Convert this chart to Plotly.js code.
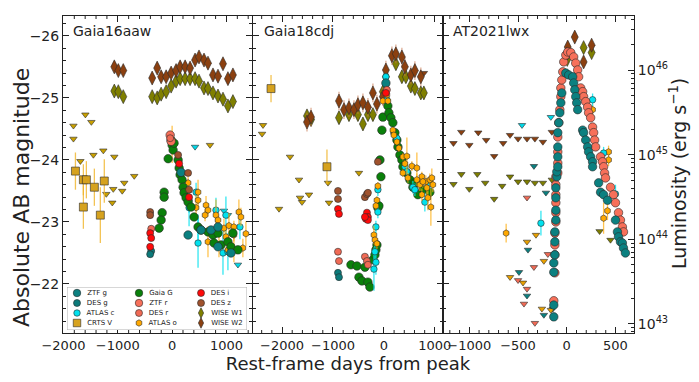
<!DOCTYPE html>
<html><head><meta charset="utf-8">
<script src="https://cdn.plot.ly/plotly-3.0.1.min.js"></script>
<style>html,body{margin:0;padding:0;background:#fff}#chart{width:699px;height:382px}</style>
</head><body><div id="chart"></div>
<script>
// ---------------- Panel 1: Gaia16aaw ----------------
const p1_gaiaG_x = [-183,-202,-239,-147,-147,-18,0,18,36,-73,110,129,147,183,202,220,257,294,348,404,477,532,660,752,844,771,899,1027,1083,1211,1119];
const p1_gaiaG_y = [-23.15,-23.03,-22.90,-23.48,-23.40,-24.32,-24.24,-24.16,-24.27,-24.02,-24.00,-23.87,-23.76,-23.68,-23.56,-23.47,-23.39,-23.32,-23.24,-23.08,-22.92,-22.87,-22.84,-22.79,-22.82,-22.66,-22.63,-22.68,-22.60,-22.55,-22.82];
const p1_ztfg_x = [294,532,716,844,1083,844,165];
const p1_ztfg_y = [-22.79,-22.87,-22.87,-22.92,-22.50,-22.60,-23.80];
const p1_desg_x = [-385,-404];
const p1_desg_y = [-22.53,-22.48];
const p1_desr_x = [-385,-36];
const p1_desr_y = [-22.89,-24.35];
const p1_ztfr_x = [-36,-18];
const p1_ztfr_y = [-24.40,-24.30];
const p1_desi_x = [-404,-385,-404,129,312];
const p1_desi_y = [-22.82,-22.74,-22.60,-23.94,-23.40];
const p1_desz_x = [-404,-404,110,294,312];
const p1_desz_y = [-23.16,-23.11,-24.08,-23.79,-23.52];
const p1_atlaso_x = [294,477,477,624,660,441,606,807,844,954,1046,1137,1229,1266,1358,1137,990,862,1027,660,1137,1302,0];
const p1_atlaso_y = [-23.63,-23.48,-23.35,-23.27,-23.19,-23.23,-23.11,-23.11,-23.03,-22.90,-22.94,-22.92,-23.16,-23.08,-22.81,-22.79,-22.76,-22.63,-22.55,-22.68,-22.55,-22.58,-24.25];
const p1_atlaso_e = [0.1,0.2,0.1,0.15,0.1,0.2,0.1,0.25,0.1,0.15,0.2,0.1,0.2,0.15,0.2,0.1,0.15,0.2,0.1,0.25,0.2,0.15,0.3];
const p1_atlasc_x = [441,312,312,477,477,807,990,936,1027,1248];
const p1_atlasc_y = [-23.48,-23.35,-23.23,-22.92,-22.66,-23.19,-23.11,-22.50,-22.52,-22.92];
const p1_atlasc_e = [0.15,0.2,0.3,0.2,0.4,0.2,0.3,0.35,0.3,0.2];
const p1_crts_x = [-1779,-1633,-1578,-1431,-1248,-1633,-1321];
const p1_crts_y = [-23.82,-23.68,-23.68,-23.56,-23.66,-23.24,-23.11];
const p1_crts_e = [0.3,0.25,0.3,0.3,0.35,0.35,0.45];
const p1_w2_x = [-1064,-990,-899,-367,-275,-202,-110,-18,73,147,239,330,422,495,587,660,752,844,936,1027,1119];
const p1_w2_y = [-25.50,-25.44,-25.44,-25.32,-25.48,-25.34,-25.34,-25.40,-25.44,-25.50,-25.50,-25.48,-25.61,-25.66,-25.61,-25.56,-25.37,-25.35,-25.55,-25.31,-25.37];
const p1_w1_x = p1_w2_x;
const p1_w1_y = [-25.11,-25.10,-25.02,-25.02,-25.00,-25.06,-25.10,-25.19,-25.27,-25.31,-25.31,-25.31,-25.31,-25.27,-25.16,-25.15,-25.08,-25.03,-24.98,-24.87,-24.94];
const p1_limV_x = [-1816,-1816,-1596,-1486,-1688,-1449,-1266,-1064,-697,-881,-1083,-918,-1211,-1101,697];
const p1_limV_y = [-24.55,-24.34,-24.73,-24.61,-23.98,-24.08,-24.15,-24.05,-23.74,-23.63,-23.53,-23.50,-23.45,-23.31,-24.24];
const p1_limc_x = [422,954,1027,1211];
const p1_limc_y = [-24.21,-23.18,-23.11,-22.31];

// ---------------- Panel 2: Gaia18cdj ----------------
const p2_crts_x = [-2216,-1118];
const p2_crts_y = [-25.15,-23.89];
const p2_crts_e = [0.22,0.28];
const p2_limV_x = [-2373,-2392,-1843,-1667,-1098,-490,-2059,-1647,-1608,-1471,-1078];
const p2_limV_y = [-24.56,-24.42,-24.05,-23.68,-23.63,-23.79,-23.21,-23.39,-23.32,-23.44,-23.31];
const p2_limW2_x = [784];
const p2_limW2_y = [-25.40];
const p2_w2_x = [-1510,-1431,-882,-784,-686,-588,-510,-412,-314,-216,-137,-20,39,157,235,353,412,529,608,725];
const p2_w2_y = [-24.61,-24.69,-24.95,-24.81,-24.84,-24.81,-24.89,-24.92,-24.85,-25.08,-24.90,-25.02,-25.45,-25.68,-25.71,-25.66,-25.50,-25.37,-25.44,-25.34];
const p2_w1_x = [-1510,-1431,-882,-686,-510,-412,-314,-216,-20,39,235,353,431,529,608,725,784];
const p2_w1_y = [-24.71,-24.65,-24.68,-24.73,-24.73,-24.58,-24.73,-24.73,-25.10,-25.34,-25.55,-25.34,-25.34,-25.19,-25.15,-25.08,-25.08];
const p2_gaiaG_x = [-647,-529,-490,-431,-373,-314,-275,-216,-176,-157,-137,-118,-98,-59,-78,-39,-20,78,98,137,176,216,255,275,314,353,373,451,510,569,608,765,902,667];
const p2_gaiaG_y = [-22.31,-22.29,-22.11,-22.05,-22.27,-22.03,-21.95,-22.39,-22.47,-22.55,-22.63,-23.23,-23.26,-23.73,-24.00,-24.48,-24.69,-24.87,-24.76,-24.68,-24.60,-24.44,-24.32,-24.21,-24.08,-24.00,-23.89,-23.79,-23.68,-23.56,-23.63,-23.52,-23.48,-23.44];
const p2_ztfg_x = [39];
const p2_ztfg_y = [-25.24];
const p2_desg_x = [-902,-882];
const p2_desg_y = [-22.18,-22.11];
const p2_desr_x = [-902,-882,-373,-333,-314,59];
const p2_desr_y = [-22.52,-22.37,-22.44,-22.37,-22.31,-25.13];
const p2_desi_x = [-902,-882,-333,-314,-353,-314,-373,39];
const p2_desi_y = [-23.21,-23.13,-23.15,-23.08,-23.05,-23.03,-23.08,-25.08];
const p2_desz_x = [-902,-902,-373,-333,-314,-118];
const p2_desz_y = [-23.50,-23.37,-23.40,-23.45,-23.47,-23.97];
const p2_atlasc_x = [-118,-118,-157,-176,-196,-157,39,39,59,255,412,451,569,804,608,902];
const p2_atlasc_y = [-23.52,-23.16,-22.92,-22.52,-22.24,-22.35,-25.34,-25.21,-24.97,-24.35,-23.89,-23.81,-23.56,-23.32,-23.52,-23.63];
const p2_atlasc_e = [0.1,0.1,0.1,0.2,0.35,0.2,0.05,0.05,0.05,0.05,0.08,0.08,0.1,0.15,0.1,0.1];
const p2_atlaso_x = [-118,-137,-157,-196,-176,-137,-20,78,59,176,196,255,294,373,412,451,549,647,745,824,902,373,471,647,706,765,843,941,961,863,922,745];
const p2_atlaso_y = [-23.58,-23.35,-23.26,-22.79,-22.71,-22.65,-24.95,-24.95,-25.05,-24.48,-24.40,-24.29,-24.19,-24.05,-23.94,-24.06,-23.90,-23.87,-23.73,-23.65,-23.68,-23.79,-23.71,-23.68,-23.60,-23.65,-23.55,-23.71,-23.60,-23.39,-23.24,-23.44];
const p2_atlaso_e = [0.06,0.06,0.06,0.15,0.1,0.08,0.05,0.05,0.05,0.05,0.05,0.05,0.06,0.06,0.06,0.3,0.08,0.25,0.08,0.1,0.1,0.06,0.08,0.1,0.1,0.1,0.12,0.15,0.12,0.2,0.3,0.1];

// ---------------- Panel 3: AT2021lwx ----------------
const p3_ztfr_x = [-133,-122,-122,-122,-122,-112,-112,-112,-112,-112,-112,-92,-92,-92,-92,-82,-71,-61,-61,-51,-41,-31,-10,10,41,71,92,112,122,143,163,173,194,214,224,245,265,276,286,296,347,367,378,388,398,449,480,500,531,551,571,582];
const p3_ztfr_y = [-21.73,-22.18,-22.47,-22.63,-22.82,-23.00,-23.15,-23.31,-23.44,-23.60,-23.73,-23.79,-23.95,-24.13,-24.37,-24.60,-24.81,-25.02,-25.16,-25.29,-25.42,-25.58,-25.69,-25.74,-25.73,-25.66,-25.56,-25.45,-25.34,-25.16,-25.10,-25.02,-24.94,-24.85,-24.76,-24.68,-24.53,-24.44,-24.32,-24.21,-24.05,-23.97,-23.89,-23.79,-23.71,-23.56,-23.44,-23.31,-23.15,-23.03,-22.92,-22.84];
const p3_ztfg_x = [-133,-133,-133,-133,-122,-122,-122,-112,-112,-112,-112,-102,-102,-92,-92,-92,-92,-82,-71,-61,-51,-10,20,61,71,82,92,102,112,163,173,194,214,224,245,265,265,327,347,378,418,500,520,531,551,571,582,602];
const p3_ztfg_y = [-21.47,-21.66,-22.19,-22.34,-22.47,-22.68,-22.84,-23.03,-23.19,-23.39,-23.55,-23.73,-23.81,-23.89,-24.05,-24.21,-24.44,-24.60,-24.76,-24.92,-25.08,-25.40,-25.37,-25.34,-25.24,-25.13,-25.02,-24.92,-24.81,-24.48,-24.44,-24.32,-24.21,-24.13,-24.05,-23.97,-23.89,-23.63,-23.48,-23.44,-23.35,-23.03,-22.84,-22.76,-22.68,-22.66,-22.58,-22.50];
const p3_atlaso_x = [-622,378,418,429,429,265,10,51];
const p3_atlaso_y = [-22.82,-23.06,-23.18,-24.13,-24.00,-24.81,-25.74,-25.34];
const p3_atlaso_e = [0.15,0.25,0.15,0.1,0.1,0.08,0.05,0.05];
const p3_atlasc_x = [-265,265,378,500];
const p3_atlasc_y = [-22.98,-24.97,-24.11,-23.45];
const p3_atlasc_e = [0.2,0.1,0.1,0.15];
const p3_w2_x = [82,255,173,10,0];
const p3_w2_y = [-25.98,-25.85,-25.58,-25.82,-25.70];
const p3_w1_x = [173,255,5];
const p3_w1_y = [-25.81,-25.73,-25.62];
const p3_limW2_x = [-1163,-1082,-1000,-908,-827,-745,-653,-582,-500,-408,-327,-245,-153];
const p3_limW2_y = [-24.27,-24.45,-24.24,-24.44,-24.32,-24.06,-24.27,-24.40,-24.34,-24.34,-24.34,-24.29,-24.45];
const p3_limW1_x = [-1163,-1082,-1000,-918,-837,-745,-663,-582,-500,-408,-327,-245,-153,337,449];
const p3_limW1_y = [-23.61,-23.77,-23.53,-23.77,-23.63,-23.37,-23.58,-23.73,-23.65,-23.65,-23.63,-23.63,-23.68,-22.85,-22.71];
const p3_limg_x = [-337,-398,-490,-408,-214,-143,-235];
const p3_limg_y = [-23.90,-22.55,-22.19,-21.81,-23.47,-21.60,-21.50];
const p3_limr_x = [-408,-337,-194,-500,-439,-408,-327];
const p3_limr_y = [-23.39,-22.27,-22.48,-22.06,-21.68,-21.92,-21.37];
const p3_limo_x = [-408,-316,-235,-582,-449,-255,-163];
const p3_limo_y = [-22.68,-22.79,-22.37,-22.11,-22.02,-21.60,-21.58];
const p3_limc_x = [-163,-459];
const p3_limc_y = [-24.69,-24.56];

// ---------------- labels ----------------
const panelNames = ['Gaia16aaw','Gaia18cdj','AT2021lwx'];
const legendNames = ['ZTF g','DES g','ATLAS c','CRTS V','Gaia G','ZTF r','DES r','ATLAS o','DES i','DES z','WISE W1','WISE W2'];
const magTicks = [-26,-25,-24,-23,-22];
const lumTicks = [43,44,45,46];

// ---------------- styles ----------------
const S = {
  'ZTF g':  {color:'#0b8080', size:8.5, ec:'rgba(11,128,128,0.7)'},
  'DES g':  {color:'#0b7a7a', size:7, ec:'rgba(11,122,122,0.7)'},
  'ATLAS c':{color:'#00e1ee', size:6.5, ec:'rgba(0,225,238,0.8)'},
  'CRTS V': {color:'#d6a21e', size:8, symbol:'square', ec:'rgba(240,180,40,0.8)'},
  'Gaia G': {color:'#0a800a', size:8.5, ec:'rgba(10,128,10,0.7)'},
  'ZTF r':  {color:'#f7705a', size:8.5, ec:'rgba(247,112,90,0.7)'},
  'DES r':  {color:'#f06a55', size:7, ec:'rgba(240,106,85,0.7)'},
  'ATLAS o':{color:'#ffa800', size:6.5, symbol:'hexagon', ec:'rgba(255,175,20,0.75)'},
  'DES i':  {color:'#ff0a0a', size:7, ec:'rgba(255,0,0,0.7)'},
  'DES z':  {color:'#a0522d', size:7, ec:'rgba(160,82,45,0.7)'},
  'WISE W1':{color:'#7f7f00', size:10, symbol:'diamond-tall', ec:'rgba(128,128,0,0.6)'},
  'WISE W2':{color:'#8b4010', size:10, symbol:'diamond-tall', ec:'rgba(200,120,80,0.6)'}
};
const limColors = {V:'#c9a000', W2:'#8b4010', W1:'#7f7f00', g:'#0b8080', r:'#f06a55', o:'#e8a000', c:'#00d8e8'};

const axIds = [['x','y'],['x2','y2'],['x3','y3']];
const traces = [];
function add(panel, name, xs, ys, errs, errConst){
  const st = S[name];
  const t = {type:'scatter', mode:'markers', x:xs, y:ys, xaxis:axIds[panel][0], yaxis:axIds[panel][1],
    showlegend:false, hoverinfo:'skip', cliponaxis:true,
    marker:{symbol:st.symbol||'circle', size:st.size, color:st.color, line:{color:'#2a2a2a', width:0.6}}};
  if (errs) t.error_y = {type:'data', array:errs, visible:true, color:st.ec, thickness:1.3, width:0};
  else if (errConst) t.error_y = {type:'constant', value:errConst, visible:true, color:st.ec, thickness:1.3, width:0};
  traces.push(t);
}
function lim(panel, key, xs, ys){
  traces.push({type:'scatter', mode:'markers', x:xs, y:ys, xaxis:axIds[panel][0], yaxis:axIds[panel][1],
    showlegend:false, hoverinfo:'skip',
    marker:{symbol:'triangle-down', size:6.5, color:limColors[key], line:{color:'#2a2a2a', width:0.6}}});
}

// panel 1
lim(0,'V',p1_limV_x,p1_limV_y); lim(0,'c',p1_limc_x,p1_limc_y);
add(0,'CRTS V',p1_crts_x,p1_crts_y,p1_crts_e);
add(0,'WISE W1',p1_w1_x,p1_w1_y,null,0.05);
add(0,'WISE W2',p1_w2_x,p1_w2_y,null,0.05);
add(0,'ATLAS c',p1_atlasc_x,p1_atlasc_y,p1_atlasc_e);
add(0,'ATLAS o',p1_atlaso_x,p1_atlaso_y,p1_atlaso_e);
add(0,'Gaia G',p1_gaiaG_x,p1_gaiaG_y);
add(0,'ZTF g',p1_ztfg_x,p1_ztfg_y);
add(0,'DES g',p1_desg_x,p1_desg_y);
add(0,'ZTF r',p1_ztfr_x,p1_ztfr_y);
add(0,'DES r',p1_desr_x,p1_desr_y);
add(0,'DES i',p1_desi_x,p1_desi_y);
add(0,'DES z',p1_desz_x,p1_desz_y);
// panel 2
lim(1,'V',p2_limV_x,p2_limV_y); lim(1,'W2',p2_limW2_x,p2_limW2_y);
add(1,'CRTS V',p2_crts_x,p2_crts_y,p2_crts_e);
add(1,'WISE W1',p2_w1_x,p2_w1_y,null,0.1);
add(1,'WISE W2',p2_w2_x,p2_w2_y,null,0.15);
add(1,'Gaia G',p2_gaiaG_x,p2_gaiaG_y);
add(1,'ATLAS c',p2_atlasc_x,p2_atlasc_y,p2_atlasc_e);
add(1,'ATLAS o',p2_atlaso_x,p2_atlaso_y,p2_atlaso_e);
add(1,'ZTF g',p2_ztfg_x,p2_ztfg_y);
add(1,'DES g',p2_desg_x,p2_desg_y);
add(1,'DES r',p2_desr_x,p2_desr_y);
add(1,'DES i',p2_desi_x,p2_desi_y);
add(1,'DES z',p2_desz_x,p2_desz_y);
// panel 3
lim(2,'W2',p3_limW2_x,p3_limW2_y); lim(2,'W1',p3_limW1_x,p3_limW1_y);
lim(2,'g',p3_limg_x,p3_limg_y); lim(2,'r',p3_limr_x,p3_limr_y);
lim(2,'o',p3_limo_x,p3_limo_y); lim(2,'c',p3_limc_x,p3_limc_y);
add(2,'WISE W1',p3_w1_x,p3_w1_y,null,0.05);
add(2,'WISE W2',p3_w2_x,p3_w2_y,null,0.05);
add(2,'ATLAS o',p3_atlaso_x,p3_atlaso_y,p3_atlaso_e);
add(2,'ATLAS c',p3_atlasc_x,p3_atlasc_y,p3_atlasc_e);
add(2,'ZTF r',p3_ztfr_x,p3_ztfr_y,null,0.06);
add(2,'ZTF g',p3_ztfg_x,p3_ztfg_y,null,0.06);

// custom 3-column legend (box + markers + text) on its own small subplot
traces.push({type:'scatter', mode:'lines', x:[0,180,180,0,0], y:[0,0,43,43,0], xaxis:'x4', yaxis:'y4',
  fill:'toself', fillcolor:'rgba(255,255,255,0.92)', line:{color:'#b0b0b0', width:1}, showlegend:false, hoverinfo:'skip'});
legendNames.forEach((nm, i) => {
  const col = Math.floor(i/4), row = i%4, st = S[nm];
  traces.push({type:'scatter', mode:'markers+text', x:[10+col*62], y:[6+row*10], xaxis:'x4', yaxis:'y4',
    text:['  '+nm], textposition:'middle right', textfont:{family:'DejaVu Sans', size:7, color:'#222'},
    marker:{symbol:st.symbol||'circle', size:Math.min(st.size,7.5), color:st.color, line:{color:'#2a2a2a', width:0.6}},
    showlegend:false, hoverinfo:'skip', cliponaxis:false});
});
// empty trace so the luminosity axis is drawn
traces.push({type:'scatter', mode:'markers', x:[], y:[], xaxis:'x3', yaxis:'y5', showlegend:false, hoverinfo:'skip'});

const W = 571;
const F = 'DejaVu Sans, sans-serif';
const base = {showline:true, linecolor:'#222', linewidth:1, mirror:'ticks', ticks:'inside', ticklen:6, tickwidth:1,
  tickcolor:'#222', showgrid:false, zeroline:false, tickfont:{family:F, size:13, color:'#222'}};
const minorY = {dtick:0.2, ticks:'inside', ticklen:3, tickwidth:1, tickcolor:'#222', showgrid:false};
const lumMinor = [];
for (let e = 42; e <= 46; e++) for (let m = 2; m <= 9; m++) lumMinor.push(m*Math.pow(10,e));
const r1 = [-2008,1470], r2 = [-2570,1160], r3 = [-1270,690];

// x-axis minor tick marks (bottom and top edges), drawn as short decoration lines
const shapes = [];
[['x',r1,200,1000],['x2',r2,200,1000],['x3',r3,100,500]].forEach(([xr, rg, step, major]) => {
  for (let d = Math.ceil(rg[0]/step)*step; d <= rg[1]; d += step) {
    if (d % major === 0) continue;
    [[0, 3/317],[1-3/317, 1]].forEach(([a,b]) => shapes.push({type:'line', xref:xr, yref:'y domain', x0:d, x1:d, y0:a, y1:b,
      line:{color:'#222', width:1}, layer:'above'}));
  }
});

const layout = {
  width:699, height:382, margin:{l:63, r:65, t:16, b:49}, paper_bgcolor:'#fff', plot_bgcolor:'#fff',
  showlegend:false, font:{family:F, color:'#222'}, shapes:shapes,
  xaxis:Object.assign({}, base, {domain:[0,189/W], range:r1, tick0:0, dtick:1000, anchor:'y'}),
  xaxis2:Object.assign({}, base, {domain:[190/W,380/W], range:r2, tick0:0, dtick:1000, anchor:'y2',
    title:{text:'Rest-frame days from peak', font:{family:F, size:18, color:'#222'}, standoff:4}}),
  xaxis3:Object.assign({}, base, {domain:[380/W,1], range:r3, tick0:0, dtick:500, anchor:'y3'}),
  yaxis:Object.assign({}, base, {domain:[0,1], range:[-21.21,-26.32], tickvals:magTicks, tickfont:{family:F, size:14, color:'#222'},
    minor:minorY, anchor:'x'}),
  yaxis2:Object.assign({}, base, {matches:'y', anchor:'x2', showticklabels:false, tickvals:magTicks, minor:minorY}),
  yaxis3:Object.assign({}, base, {matches:'y', anchor:'x3', showticklabels:false, mirror:false, tickvals:magTicks, minor:minorY}),
  yaxis5:{overlaying:'y3', anchor:'x3', side:'right', type:'log', range:[42.89,46.64], showline:true, linecolor:'#222', linewidth:1,
    ticks:'inside', ticklen:6, tickcolor:'#222', showgrid:false, zeroline:false,
    tickvals:lumTicks.map(e=>Math.pow(10,e)), ticktext:lumTicks.map(e=>'10<sup>'+e+'</sup>'),
    tickfont:{family:F, size:14, color:'#222'},
    minor:{tickvals:lumMinor, ticks:'inside', ticklen:3, tickcolor:'#222', showgrid:false}},
  xaxis4:{domain:[4/W,184/W], range:[0,180], visible:false, anchor:'y4', fixedrange:true},
  yaxis4:{domain:[3/317,46/317], range:[43,0], visible:false, anchor:'x4', fixedrange:true},
  annotations: panelNames.map((t,i) => ({text:t, xref:'paper', yref:'paper', x:[8,199,388][i]/W, y:(333-31)/317,
    xanchor:'left', yanchor:'middle', showarrow:false, font:{family:F, size:14, color:'#222'}})).concat([
    {text:'Absolute AB magnitude', xref:'paper', yref:'paper', x:(21-63)/W, y:(333-198)/317, textangle:-90,
      xanchor:'center', yanchor:'middle', showarrow:false, font:{family:F, size:22, color:'#222'}},
    {text:'Luminosity (erg s<sup>−1</sup>)', xref:'paper', yref:'paper', x:(678-63)/W, y:(333-174)/317, textangle:-90,
      xanchor:'center', yanchor:'middle', showarrow:false, font:{family:F, size:19, color:'#222'}}])
};

Plotly.newPlot('chart', traces, layout, {staticPlot:true, displayModeBar:false});
</script></body></html>
